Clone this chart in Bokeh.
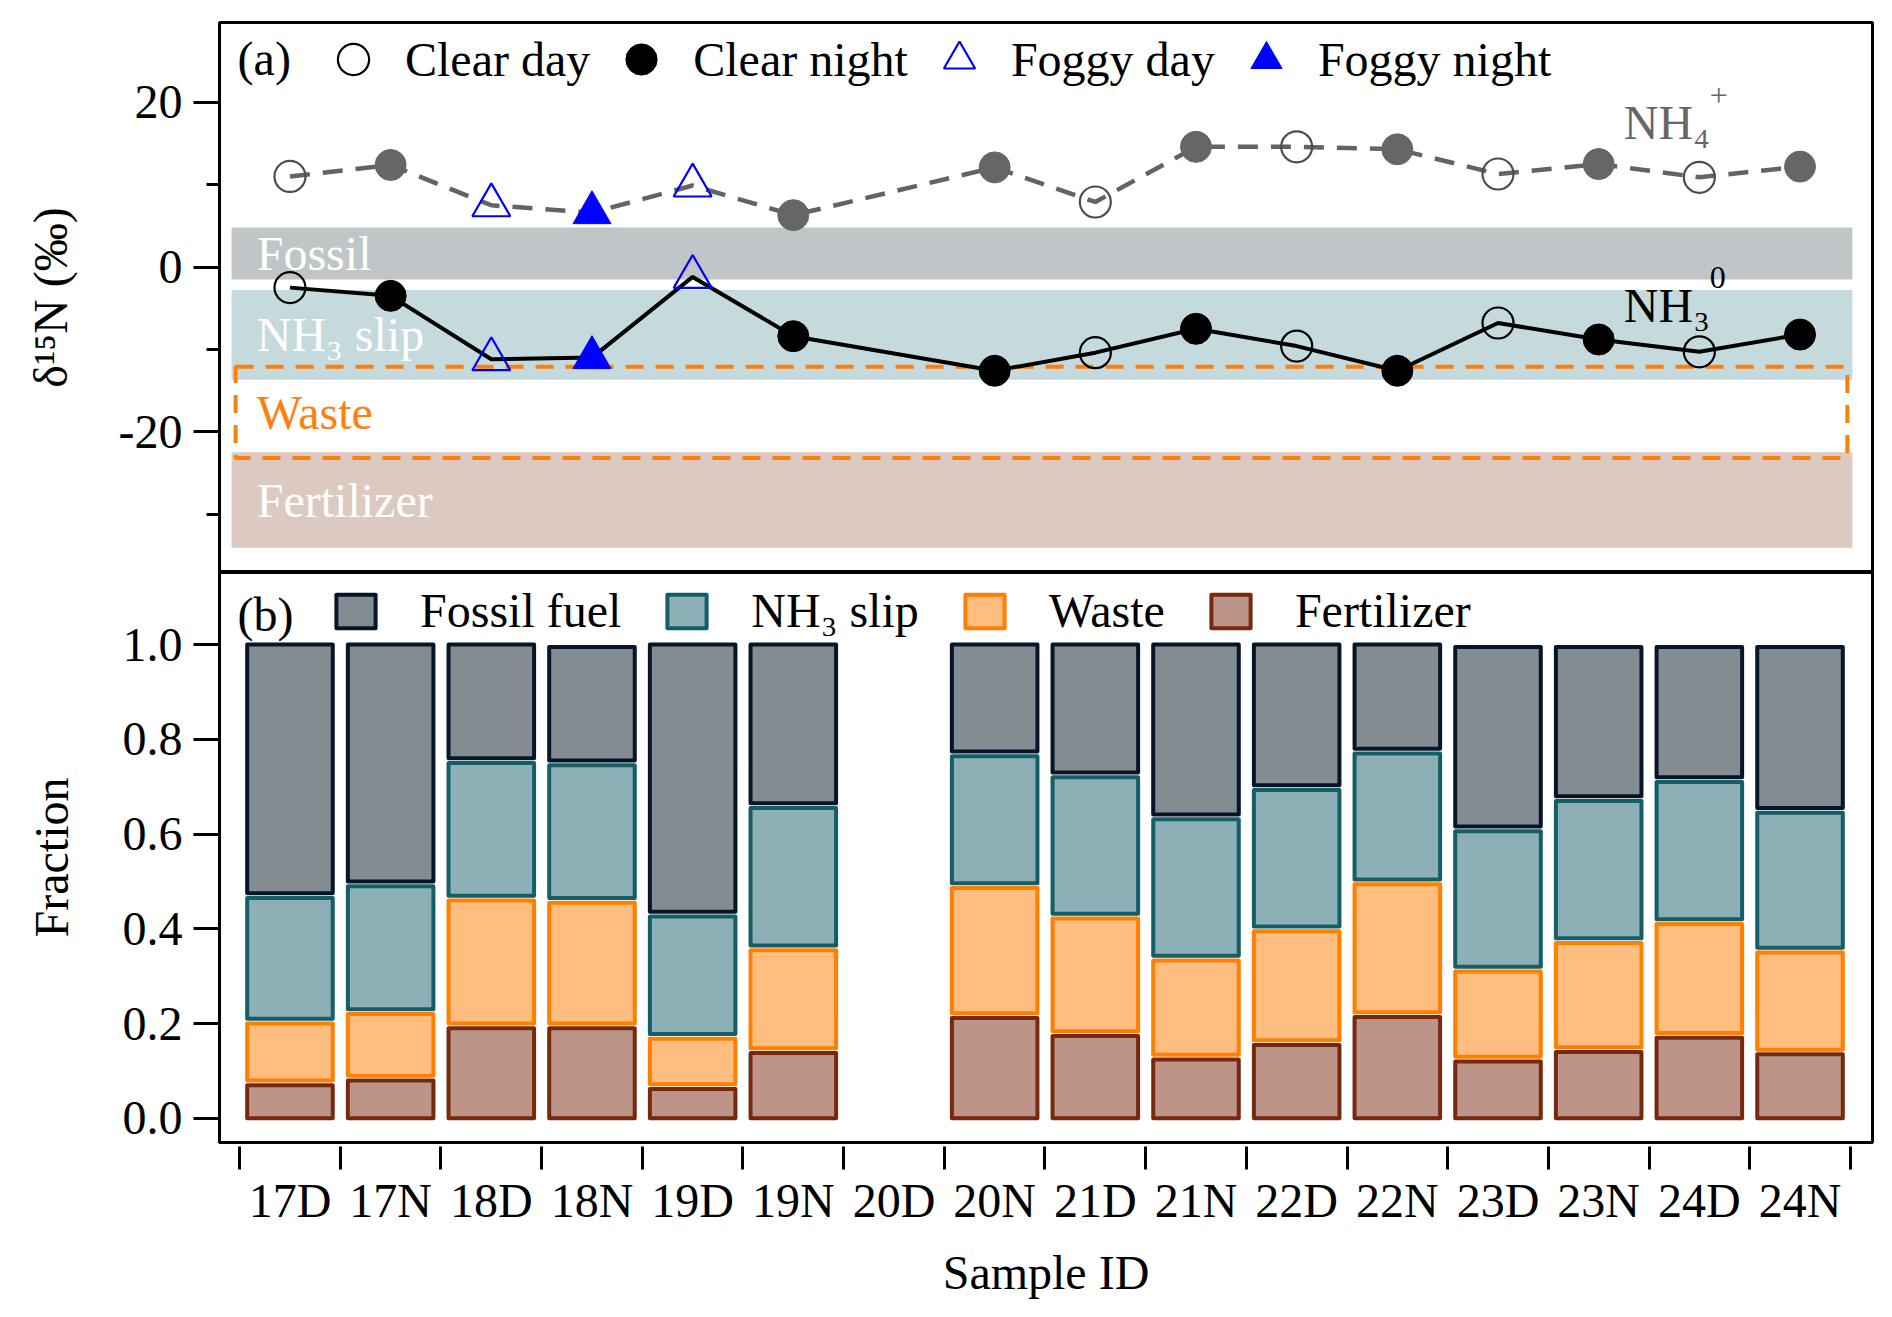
import numpy as np
from bokeh.plotting import figure
from bokeh.layouts import column
from bokeh.models import FixedTicker, Legend, LegendItem, Label, Range1d, NumeralTickFormatter
from bokeh.core.properties import value
from bokeh.embed import file_html
from bokeh.resources import INLINE

# samples (D = day, N = night); 20D was not sampled
samples = ["17D", "17N", "18D", "18N", "19D", "19N", "20D", "20N",
           "21D", "21N", "22D", "22N", "23D", "23N", "24D", "24N"]
weather = ["Clear day", "Clear night", "Foggy day", "Foggy night", "Foggy day", "Clear night", None,
           "Clear night", "Clear day", "Clear night", "Clear day", "Clear night", "Clear day",
           "Clear night", "Clear day", "Clear night"]

# d15N (permil)
d15n_nh4 = [11.0, 12.4, 7.5, 6.6, 9.9, 6.3, None, 12.1, 7.9, 14.6, 14.6, 14.3, 11.3, 12.5, 10.9, 12.2]
d15n_nh3 = [-2.5, -3.5, -11.2, -11.0, -1.2, -8.4, None, -12.6, -10.4, -7.5, -9.6, -12.6, -6.8, -8.8, -10.3, -8.2]

# d15N ranges of the sources
band_names = ["Fossil", "NH₃ slip", "Waste", "Fertilizer"]
band_low = [-1.5, -13.7, -23.2, -34.1]
band_high = [4.8, -2.8, -12.1, -22.5]

# source fractions (b)
fertilizer = [0.07, 0.08, 0.19, 0.19, 0.062, 0.138, None, 0.212, 0.174, 0.124, 0.155, 0.214, 0.12, 0.14, 0.17, 0.135]
waste = [0.13, 0.14, 0.27, 0.265, 0.106, 0.217, None, 0.274, 0.248, 0.209, 0.24, 0.28, 0.19, 0.23, 0.24, 0.215]
nh3_slip = [0.265, 0.27, 0.29, 0.29, 0.258, 0.30, None, 0.278, 0.298, 0.298, 0.298, 0.276, 0.296, 0.30, 0.30, 0.295]
fossil_fuel = [0.535, 0.51, 0.25, 0.25, 0.574, 0.345, None, 0.236, 0.28, 0.369, 0.307, 0.23, 0.389, 0.325, 0.285, 0.35]

FONT = "Liberation Serif"
FS = "48px"
idx = np.arange(len(samples))
x_range = Range1d(-0.70, 15.72)


def style_y(p, label, standoff):
    ax = p.yaxis[0]
    ax.axis_label = label
    ax.axis_label_text_font = FONT
    ax.axis_label_text_font_size = FS
    ax.axis_label_text_font_style = "normal"
    ax.axis_label_text_color = "black"
    ax.axis_label_standoff = standoff
    ax.major_label_text_font = FONT
    ax.major_label_text_font_size = FS
    ax.major_label_text_color = "black"
    ax.major_label_standoff = 11
    ax.axis_line_width = 3
    ax.major_tick_line_width = 3
    ax.minor_tick_line_width = 3
    ax.major_tick_in = 0
    ax.major_tick_out = 26
    ax.minor_tick_in = 0
    ax.minor_tick_out = 13


# ---------------- (a) d15N ----------------
p1 = figure(x_range=x_range, y_range=Range1d(-37.1, 29.7), frame_width=1653, frame_height=550,
            min_border_left=219, min_border_right=4, min_border_top=22, min_border_bottom=0,
            output_backend="svg", toolbar_location=None, x_axis_location=None)
p1.grid.visible = False
p1.outline_line_color = "black"
p1.outline_line_width = 3
style_y(p1, "δ¹⁵N (‰)", 39)
p1.yaxis[0].ticker = FixedTicker(ticks=[-20, 0, 20], minor_ticks=[-30, -10, 10])
p1.yaxis[0].major_label_overrides = {-20: "-20", 0: "0", 20: "20"}

band_colors = ["#c0c5c8", "#c5dadd", None, "#dcc9c1"]
for lo, hi, c in zip(band_low, band_high, band_colors):
    if c is not None:
        p1.quad(left=-0.58, right=15.52, bottom=lo, top=hi, fill_color=c, line_color=None)
wi = band_names.index("Waste")
p1.quad(left=-0.54, right=15.47, bottom=band_low[wi], top=band_high[wi], fill_color=None,
        line_color="#ff7f0e", line_width=4, line_dash="18 12")
band_mid = [(lo + hi) / 2 for lo, hi in zip(band_low, band_high)]
p1.text(x=[-0.33] * 4, y=band_mid, text=band_names, text_font=value(FONT), text_font_size=FS,
        text_baseline="middle", text_color=["white", "white", "#ff7f0e", "white"])

ok = [i for i in idx if d15n_nh4[i] is not None]
p1.line([i for i in ok], [d15n_nh4[i] for i in ok], line_color="#636363", line_width=4.5, line_dash="20 13")
p1.line([i for i in ok], [d15n_nh3[i] for i in ok], line_color="black", line_width=4)


def marker_style(cond, base, open_line):
    if cond == "Clear day":
        return dict(marker="circle", size=31, fill_color=None, line_color=open_line, line_width=2.2)
    if cond == "Clear night":
        return dict(marker="circle", size=31, fill_color=base, line_color=base, line_width=1)
    if cond == "Foggy day":
        return dict(marker="triangle", size=38, fill_color=None, line_color="blue", line_width=2.2)
    return dict(marker="triangle", size=38, fill_color="blue", line_color="blue", line_width=1)


conds = ["Clear day", "Clear night", "Foggy day", "Foggy night"]
legend_r = {}
for cond in conds:
    sel = [i for i in ok if weather[i] == cond]
    p1.scatter([i for i in sel], [d15n_nh4[i] for i in sel], **marker_style(cond, "#666666", "#4d4d4d"))
    legend_r[cond] = p1.scatter([i for i in sel], [d15n_nh3[i] for i in sel],
                                **marker_style(cond, "black", "black"))

leg_a = Legend(items=[LegendItem(label=c, renderers=[legend_r[c]]) for c in conds],
               orientation="horizontal", location=(95, 474), glyph_width=78, glyph_height=78,
               label_standoff=13, spacing=12, padding=0, margin=0, border_line_color=None,
               background_fill_color=None, label_text_font=FONT, label_text_font_size=FS,
               label_text_color="black")
p1.add_layout(leg_a)
p1.add_layout(Label(x=-0.52, y=25.35, text="(a)", text_font=FONT, text_font_size=FS,
                    text_baseline="middle", text_color="black"))
p1.add_layout(Label(x=13.25, y=17.6, text="NH₄", text_font=FONT, text_font_size=FS,
                    text_baseline="middle", text_color="#666666"))
p1.add_layout(Label(x=13.25, y=17.6, x_offset=86, y_offset=27, text="+", text_font=FONT,
                    text_font_size="32px", text_baseline="middle", text_color="#666666"))
p1.add_layout(Label(x=13.25, y=-4.7, text="NH₃", text_font=FONT, text_font_size=FS,
                    text_baseline="middle", text_color="black"))
p1.add_layout(Label(x=13.25, y=-4.7, x_offset=86, y_offset=28, text="0", text_font=FONT,
                    text_font_size="32px", text_baseline="middle", text_color="black"))

# ---------------- (b) source fractions ----------------
p2 = figure(x_range=x_range, y_range=Range1d(-0.051, 1.152), frame_width=1653, frame_height=570,
            min_border_left=219, min_border_right=4, min_border_top=0, min_border_bottom=167,
            output_backend="svg", toolbar_location=None)
p2.grid.visible = False
p2.outline_line_color = "black"
p2.outline_line_width = 3
style_y(p2, "Fraction", 42)
p2.yaxis[0].ticker = FixedTicker(ticks=[0, 0.2, 0.4, 0.6, 0.8, 1.0], minor_ticks=[])
p2.yaxis[0].formatter = NumeralTickFormatter(format="0.0")

xa = p2.xaxis[0]
xa.ticker = FixedTicker(ticks=list(idx), minor_ticks=[i - 0.5 for i in range(len(samples) + 1)])
xa.major_label_overrides = {int(i): s for i, s in enumerate(samples)}
xa.axis_line_color = None
xa.major_tick_in = 0
xa.major_tick_out = 0
xa.minor_tick_in = -4
xa.minor_tick_out = 27
xa.minor_tick_line_width = 3
xa.major_label_text_font = FONT
xa.major_label_text_font_size = FS
xa.major_label_text_color = "black"
xa.major_label_standoff = 4
xa.axis_label = "Sample ID"
xa.axis_label_text_font = FONT
xa.axis_label_text_font_size = FS
xa.axis_label_text_font_style = "normal"
xa.axis_label_text_color = "black"
xa.axis_label_standoff = 16

stack = [("Fertilizer", fertilizer, "#bd9488", "#76290f"),
         ("Waste", waste, "#ffbd80", "#ff7f00"),
         ("NH₃ slip", nh3_slip, "#8cb0b5", "#145e68"),
         ("Fossil fuel", fossil_fuel, "#838c91", "#061527")]
gap = 0.01
bars = [i for i in idx if fertilizer[i] is not None]
base = {i: 0.0 for i in bars}
bar_r = {}
for name, frac, fill, edge in stack:
    bottoms = [base[i] + (gap if base[i] > 0 else 0) for i in bars]
    tops = [base[i] + frac[i] for i in bars]
    bar_r[name] = p2.vbar(x=[int(i) for i in bars], bottom=bottoms, top=tops, width=0.85,
                          fill_color=fill, line_color=edge, line_width=4, line_join="round")
    for i in bars:
        base[i] += frac[i]

leg_b = Legend(items=[LegendItem(label=n, renderers=[bar_r[n]]) for n in ["Fossil fuel", "NH₃ slip", "Waste", "Fertilizer"]],
               orientation="horizontal", location=(112, 504), glyph_width=49, glyph_height=42,
               label_standoff=40, spacing=41, padding=0, margin=0, border_line_color=None,
               background_fill_color=None, label_text_font=FONT, label_text_font_size=FS,
               label_text_color="black")
p2.add_layout(leg_b)
p2.add_layout(Label(x=-0.52, y=1.063, text="(b)", text_font=FONT, text_font_size=FS,
                    text_baseline="middle", text_color="black"))

layout = column(p1, p2)
open("out.html", "w").write(file_html(layout, INLINE))
